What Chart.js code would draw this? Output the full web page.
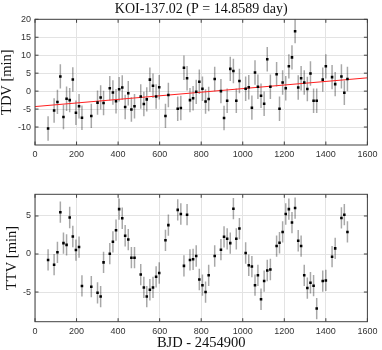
<!DOCTYPE html>
<html>
<head>
<meta charset="utf-8">
<script src="https://cdn.jsdelivr.net/npm/chart.js@4/dist/chart.umd.min.js"></script>
<style>
  body { margin: 0; background: #fff; }
  canvas { position: absolute; left: 0; }
  #tdvChart { top: 0; }
  #ttvChart { top: 170px; }
</style>
</head>
<body>
<canvas id="tdvChart" width="382" height="170"></canvas>
<canvas id="ttvChart" width="382" height="180"></canvas>
<script>
// transit epochs, BJD - 2454900
const epochs = [63, 92, 108, 122, 137, 152, 167, 182, 197, 212, 226, 271, 301, 316, 330,
  360, 375, 390, 405, 420, 434, 449, 464, 479, 509, 524, 538, 553, 568, 583, 598,
  628, 642, 687, 702, 717, 732, 746, 761, 776, 791, 806, 821, 836, 865,
  895, 910, 925, 940, 955, 969, 984, 1014, 1029, 1044, 1059, 1073, 1088, 1103, 1118, 1133,
  1163, 1177, 1192, 1207, 1222, 1237, 1252, 1267, 1281, 1296, 1311, 1326, 1341, 1356,
  1385, 1400, 1430, 1445, 1475, 1489, 1504];

const tdv = [-10.4, -5.4, -3.0, 4.1, -7.2, -2.1, -2.5, 3.25, -6.0, -4.2, -7.4, -6.9, -3.2, -1.75, -3.3,
  0.8, -0.4, -2.8, 0.5, 1.0, -4.4, -0.6, -5.1, -4.2, -1.5, -3.6, -2.3, 3.2, 1.5, -1.5, 1.1,
  -6.9, -1.1, -4.9, -4.7, 6.5, 3.6, -2.5, -2.0, -0.2, 2.6, 0.65, -2.9, -2.2, 3.4,
  0, -7.5, -2.7, 6.2, 5.6, -2.7, 2.8, 0.65, 1.1, -4.6, 5.2, 1.2, -1.3, -3.5, 8.9, 1.2,
  4.7, -4.9, 2.4, 0.8, 6.9, 9.4, 16.7, 1.0, 3.6, 2.4, 0.6, 4.9, -2.7, -2.7,
  3.2, 6.9, 3.9, 1.95, 4.1, -0.45, 3.4];

const ttv = [-0.78, -1.4, 0.22, 5.5, 1.43, 1.2, 4.8, 2.3, 0.52, 0.91, -4.2, -4.3, -5.1, -5.6, -1.1,
  0.04, 1.6, 3.13, 5.9, 4.7, 2.4, 1.9, -0.48, -0.48, -2.7, -4.4, -5.6, -4.7, -4.4, -3.0, -2.5,
  1.8, 3.8, 5.8, 5.26, -1.56, 5.17, -0.78, -0.7, -0.26, -3.35, -4.1, -5.0, -2.8, -0.26,
  0.57, 2.26, 2.0, 1.43, 5.96, 2.0, 3.35, 0.13, -1.48, -1.65, -4.1, -2.8, -5.95, -3.56, -2.17, -2.04,
  1.04, 1.48, 2.9, 5.26, 5.9, 4.13, 6.04, 1.74, 1.04, -2.8, -4.48, -3.78, -4.17, -7.17,
  -3.56, -3.48, -0.35, 0.74, 4.74, 5.17, 2.9];

const tdvErr = 3.4;
const ttvErr = 1.4;

// linear trend of the TDV
const fitX = [0, 1600];
const fitY = [-4.3, 3.7];

const xTicks = [0, 200, 400, 600, 800, 1000, 1200, 1400, 1600];
const tdvTicks = [-10, -5, 0, 5, 10, 15, 20];
const ttvTicks = [-5, 0, 5];

const serif = 'Liberation Serif';
const sans = 'Liberation Sans';

function toPoints(xs, ys) {
  return xs.map((x, i) => ({x: x, y: ys[i]}));
}

// vertical error bars as broken line segments
function errorSegments(xs, ys, err) {
  const pts = [];
  xs.forEach((x, i) => {
    pts.push({x: x, y: ys[i] - err}, {x: x, y: ys[i] + err}, {x: x, y: null});
  });
  return pts;
}

// matlab-like box with inward ticks
const frame = {
  id: 'frame',
  afterDraw(chart) {
    const {ctx, chartArea: a, scales} = chart;
    const len = 3.5;
    ctx.save();
    ctx.strokeStyle = '#404040';
    ctx.lineWidth = 1;
    ctx.strokeRect(a.left, a.top, a.right - a.left, a.bottom - a.top);
    ctx.beginPath();
    scales.x.ticks.forEach(t => {
      const px = scales.x.getPixelForValue(t.value);
      ctx.moveTo(px, a.bottom); ctx.lineTo(px, a.bottom - len);
      ctx.moveTo(px, a.top); ctx.lineTo(px, a.top + len);
    });
    scales.y.ticks.forEach(t => {
      const py = scales.y.getPixelForValue(t.value);
      ctx.moveTo(a.left, py); ctx.lineTo(a.left + len, py);
      ctx.moveTo(a.right, py); ctx.lineTo(a.right - len, py);
    });
    ctx.stroke();
    ctx.restore();
  }
};

function xScale(height, withTitle) {
  return {
    type: 'linear',
    min: 0,
    max: 1600,
    afterBuildTicks: axis => { axis.ticks = xTicks.map(v => ({value: v})); },
    afterFit: axis => { axis.height = height; },
    grid: {color: '#e3e3e3', drawTicks: false},
    border: {display: false},
    ticks: {
      padding: 4.6, color: '#333', font: {family: sans, size: 9}, maxRotation: 0,
      callback: v => String(v)
    },
    title: {
      display: withTitle,
      text: 'BJD - 2454900',
      color: '#111',
      font: {family: serif, size: 14.5, lineHeight: 0.92},
      padding: 0
    }
  };
}

function yScale(min, max, tickList, label, titlePad) {
  return {
    type: 'linear',
    min: min,
    max: max,
    afterBuildTicks: axis => { axis.ticks = tickList.map(v => ({value: v})); },
    afterFit: axis => { axis.width = 35; },
    grid: {color: '#e3e3e3', drawTicks: false},
    border: {display: false},
    ticks: {padding: 4, color: '#333', font: {family: sans, size: 9}, callback: v => String(v)},
    title: {
      display: true,
      text: label,
      color: '#111',
      font: {family: serif, size: 14.5, lineHeight: 1},
      padding: {top: titlePad, bottom: 0}
    }
  };
}

function datasets(ys, err, withFit) {
  const ds = [{
    data: toPoints(epochs, ys),
    pointStyle: 'rect',
    pointRadius: 1.8,
    pointBorderWidth: 0,
    backgroundColor: '#000',
    showLine: false
  }];
  if (withFit) {
    ds.push({
      data: toPoints(fitX, fitY),
      showLine: true,
      borderColor: '#ff2020',
      borderWidth: 1,
      pointRadius: 0
    });
  }
  ds.push({
    data: errorSegments(epochs, ys, err),
    showLine: true,
    spanGaps: false,
    borderColor: 'rgba(0,0,0,0.34)',
    borderWidth: 1.5,
    pointRadius: 0
  });
  return ds;
}

new Chart(document.getElementById('tdvChart'), {
  type: 'scatter',
  data: {datasets: datasets(tdv, tdvErr, true)},
  options: {
    responsive: false,
    animation: false,
    layout: {padding: {left: 0, right: 11, top: 0, bottom: 0}},
    plugins: {
      legend: {display: false},
      tooltip: {enabled: false},
      title: {
        display: true,
        fullSize: false,
        text: 'KOI-137.02 (P = 14.8589 day)',
        color: '#111',
        font: {family: serif, size: 14, weight: 'normal', lineHeight: 1.25},
        padding: {top: 0.6, bottom: 1.2}
      }
    },
    scales: {
      x: xScale(25, false),
      y: yScale(-15, 20, tdvTicks, 'TDV [min]', 0.3)
    }
  },
  plugins: [frame]
});

new Chart(document.getElementById('ttvChart'), {
  type: 'scatter',
  data: {datasets: datasets(ttv, ttvErr, false)},
  options: {
    responsive: false,
    animation: false,
    layout: {padding: {left: 0, right: 11, top: 24.3, bottom: 0}},
    plugins: {
      legend: {display: false},
      tooltip: {enabled: false}
    },
    scales: {
      x: xScale(28.3, true),
      y: yScale(-8.9, 7.85, ttvTicks, 'TTV [min]', 5.3)
    }
  },
  plugins: [frame]
});
</script>
</body>
</html>
